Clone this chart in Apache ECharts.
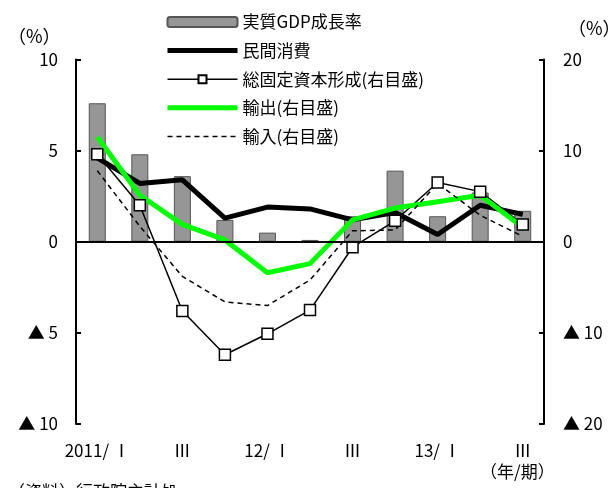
<!DOCTYPE html>
<html lang="ja">
<head>
    <meta charset="UTF-8">
    <title>実質GDP成長率と需要項目</title>
    <style>
        html, body { margin: 0; padding: 0; background: #fff; }
        #main { width: 612px; height: 488px; }
    </style>
</head>
<body>
<div id="main"></div>
<script src="https://cdn.jsdelivr.net/npm/echarts@6/dist/echarts.min.js"></script>
<script>
    // 四半期
    var quarters = ['2011/ Ⅰ', 'Ⅱ', 'Ⅲ', 'Ⅳ', '12/ Ⅰ', 'Ⅱ', 'Ⅲ', 'Ⅳ', '13/ Ⅰ', 'Ⅱ', 'Ⅲ'];
    // 左目盛
    var gdp = [7.6, 4.8, 3.6, 1.2, 0.5, 0.1, 1.4, 3.9, 1.4, 2.7, 1.7];
    var consumption = [4.6, 3.2, 3.4, 1.3, 1.9, 1.8, 1.2, 1.6, 0.4, 2.0, 1.5];
    // 右目盛
    var capital = [9.6, 4.0, -7.6, -12.4, -10.1, -7.5, -0.6, 2.3, 6.5, 5.5, 1.9];
    var exports = [11.5, 5.1, 1.9, 0.2, -3.4, -2.4, 2.4, 3.7, 4.4, 5.1, 1.6];
    var imports = [7.8, 1.7, -3.8, -6.6, -7.0, -4.2, 1.2, 1.3, 6.4, 2.9, 0.6];

    var names = ['実質GDP成長率', '民間消費', '総固定資本形成(右目盛)', '輸出(右目盛)', '輸入(右目盛)'];
    var font = '"Noto Sans CJK JP", "Noto Sans", sans-serif';

    function tri(v) {
        if (v < 0) return '▲ ' + (-v);
        return '' + v;
    }

    var myChart = echarts.init(document.getElementById('main'));
    var option = {
        animation: false,
        textStyle: { fontFamily: font, color: '#000' },
        grid: { left: 76, right: 68, top: 59.5, bottom: 64 },
        legend: {
            orient: 'vertical',
            left: 165,
            top: 13,
            padding: 0,
            itemWidth: 70,
            itemHeight: 10,
            itemGap: 10.6,
            data: [
                { name: names[0] },
                { name: names[1], itemStyle: { opacity: 0 }, lineStyle: { width: 5 } },
                { name: names[2], lineStyle: { width: 1.5 } },
                { name: names[3], itemStyle: { opacity: 0 }, lineStyle: { width: 5 } },
                { name: names[4], itemStyle: { opacity: 0 }, lineStyle: { width: 1.5, type: [5, 4] } }
            ],
            textStyle: { fontSize: 17, lineHeight: 18, color: '#000', fontFamily: font }
        },
        xAxis: {
            type: 'category',
            data: quarters,
            axisLine: { show: false },
            axisTick: { show: false },
            axisLabel: { interval: 1, margin: 18, fontSize: 17, color: '#000', fontFamily: font }
        },
        yAxis: [{
            type: 'value',
            min: -10, max: 10, interval: 5,
            axisLine: { show: true, lineStyle: { color: '#000', width: 2 } },
            axisTick: { show: true, inside: true, length: 5, lineStyle: { color: '#000', width: 2 } },
            axisLabel: { margin: 18, fontSize: 17, color: '#000', fontFamily: font, formatter: tri },
            splitLine: { show: false }
        }, {
            type: 'value',
            min: -20, max: 20, interval: 10,
            axisLine: { show: true, lineStyle: { color: '#000', width: 2 } },
            axisTick: { show: true, inside: true, length: 5, lineStyle: { color: '#000', width: 2 } },
            axisLabel: { margin: 19, fontSize: 17, color: '#000', fontFamily: font, formatter: tri },
            splitLine: { show: false }
        }],
        series: [{
            name: names[0],
            type: 'bar',
            data: gdp,
            barWidth: 17,
            itemStyle: { color: '#969696', borderColor: '#555', borderWidth: 1 },
            markLine: {
                silent: true,
                symbol: 'none',
                label: { show: false },
                lineStyle: { color: '#000', width: 2, type: 'solid' },
                data: [{ yAxis: 0 }]
            }
        }, {
            name: names[1],
            type: 'line',
            data: consumption,
            symbol: 'none',
            lineStyle: { color: '#000', width: 5 },
            itemStyle: { color: '#000' }
        }, {
            name: names[2],
            type: 'line',
            yAxisIndex: 1,
            data: capital,
            symbol: 'rect',
            symbolSize: 11,
            showAllSymbol: true,
            lineStyle: { color: '#000', width: 1.5 },
            itemStyle: { color: '#fff', borderColor: '#000', borderWidth: 1.5 }
        }, {
            name: names[3],
            type: 'line',
            yAxisIndex: 1,
            data: exports,
            symbol: 'none',
            lineStyle: { color: '#00ff00', width: 5 },
            itemStyle: { color: '#00ff00' }
        }, {
            name: names[4],
            type: 'line',
            yAxisIndex: 1,
            data: imports,
            symbol: 'none',
            lineStyle: { color: '#000', width: 1.5, type: [5, 4] },
            itemStyle: { color: '#000' }
        }],
        graphic: [
            { type: 'text', left: 8, top: 27, style: { text: '（%）', font: '18px ' + font, fill: '#000' } },
            { type: 'text', left: 568, top: 19, style: { text: '（%）', font: '18px ' + font, fill: '#000' } },
            { type: 'text', left: 480, top: 463, style: { text: '（年/期）', font: '17px ' + font, fill: '#000' } },
            { type: 'text', left: 8, top: 483, style: { text: '（資料）行政院主計処', font: '17px ' + font, fill: '#000' } }
        ]
    };
    myChart.setOption(option);
</script>
</body>
</html>
